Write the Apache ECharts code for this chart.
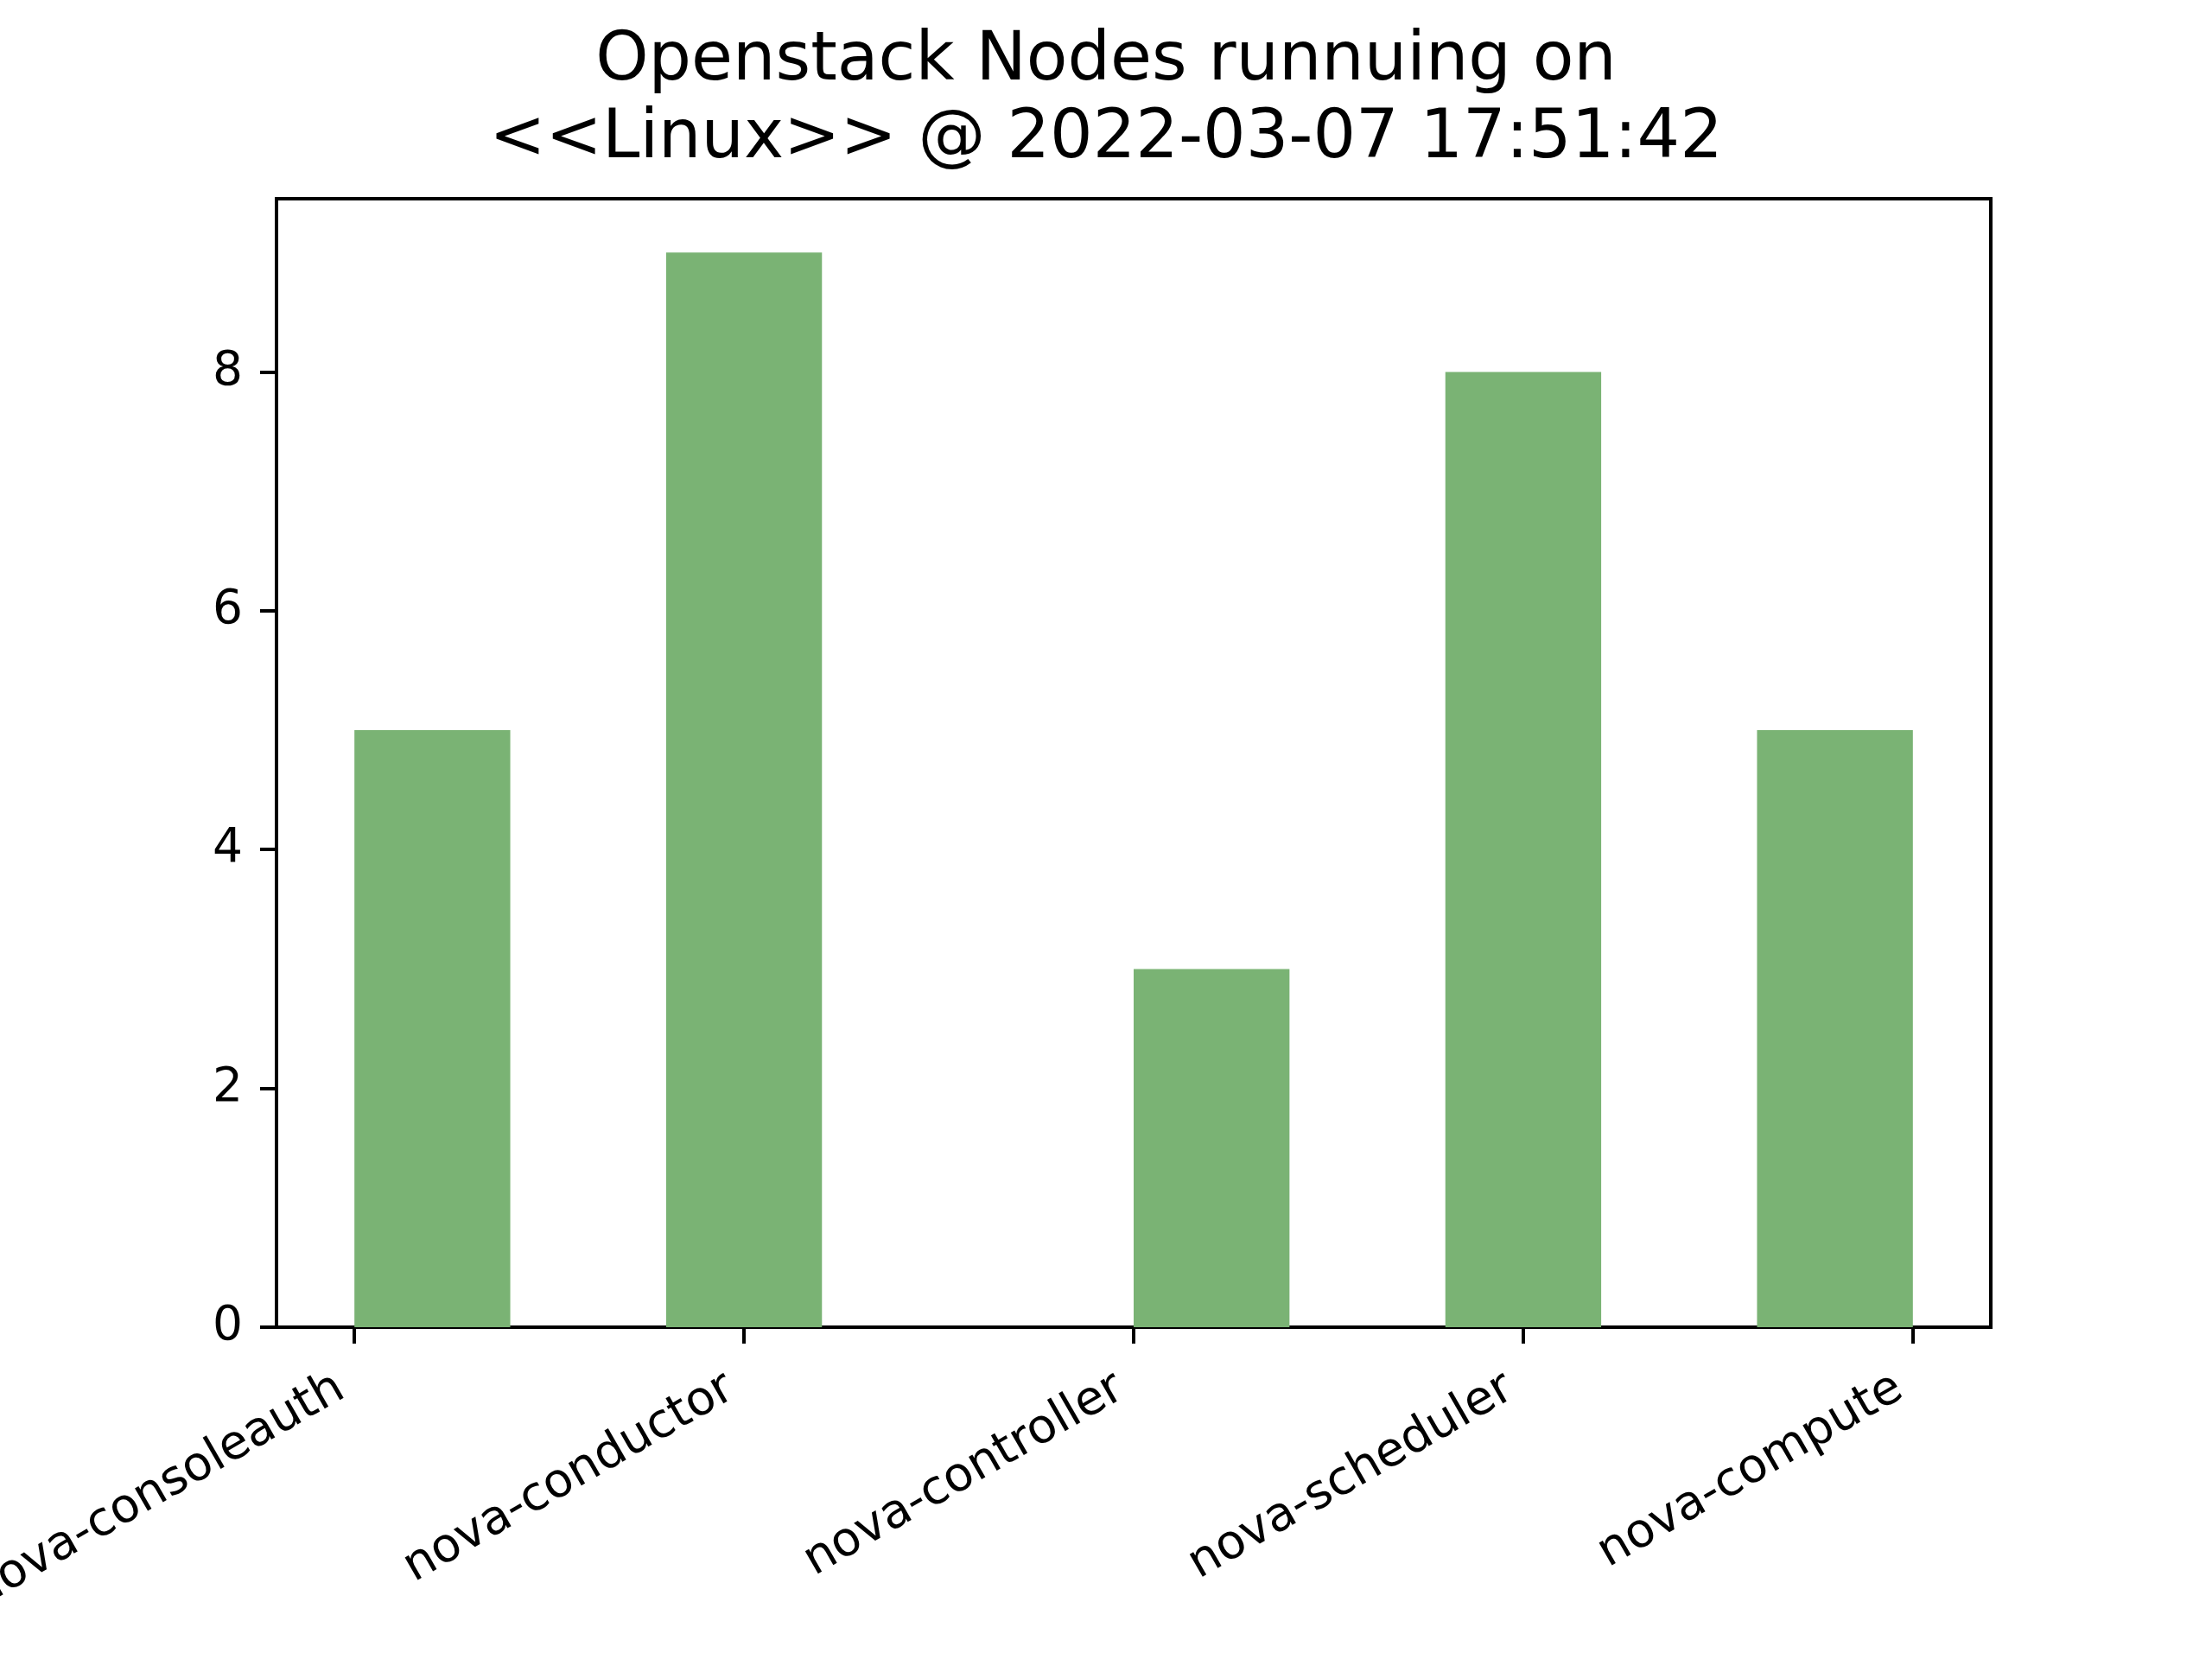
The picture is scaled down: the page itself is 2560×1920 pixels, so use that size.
<!DOCTYPE html>
<html>
<head>
<meta charset="utf-8">
<script src="https://cdn.jsdelivr.net/npm/echarts@6/dist/echarts.min.js"></script>
<style>
html, body { margin: 0; padding: 0; background: #fff; }
#chart { width: 2560px; height: 1920px; }
</style>
</head>
<body>
<div id="chart"></div>
<script>
// ---- data ----
const categories = ['nova-consoleauth', 'nova-conductor', 'nova-controller', 'nova-scheduler', 'nova-compute'];
const tickPositions = [0, 1, 2, 3, 4];
const barStarts = [0, 0.8, 2.0, 2.8, 3.6];
const nodeCounts = [5, 9, 3, 8, 5];
const yTicks = [0, 2, 4, 6, 8];
const titleText = 'Openstack Nodes runnuing on\n<<Linux>> @ 2022-03-07 17:51:42';

const BAR_WIDTH = 0.4;
const FONT = 'DejaVu Sans';

const chart = echarts.init(document.getElementById('chart'), null, { renderer: 'canvas' });

const barData = barStarts.map((x, i) => [x, nodeCounts[i]]);

chart.setOption({
  animation: false,
  backgroundColor: '#ffffff',
  title: {
    text: titleText,
    left: 'center',
    top: 22,
    textStyle: {
      fontFamily: FONT,
      fontSize: 78,
      fontWeight: 'normal',
      color: '#000',
      lineHeight: 90
    }
  },
  grid: {
    left: 320,
    right: 256,
    top: 230,
    bottom: 384,
    show: true,
    borderColor: '#000',
    borderWidth: 4,
    backgroundColor: 'transparent',
    containLabel: false,
    outerBoundsMode: 'none'
  },
  xAxis: {
    type: 'value',
    min: -0.2,
    max: 4.2,
    splitLine: { show: false },
    axisLine: { show: false, onZero: false },
    axisTick: {
      show: true,
      customValues: tickPositions,
      length: 19,
      inside: false,
      lineStyle: { color: '#000', width: 4 }
    },
    axisLabel: {
      show: true,
      customValues: tickPositions,
      rotate: 30,
      margin: 58,
      fontFamily: FONT,
      fontSize: 55,
      color: '#000',
      padding: [0, 18, 0, 0],
      formatter: function (v) {
        const idx = tickPositions.indexOf(Math.round(v));
        return idx >= 0 ? categories[idx] : '';
      }
    }
  },
  yAxis: {
    type: 'value',
    min: 0,
    max: 9.45,
    splitLine: { show: false },
    axisLine: { show: false, onZero: false },
    axisTick: {
      show: true,
      customValues: yTicks,
      length: 19,
      inside: false,
      lineStyle: { color: '#000', width: 4 }
    },
    axisLabel: {
      show: true,
      customValues: yTicks,
      margin: 39,
      fontFamily: FONT,
      fontSize: 55,
      color: '#000',
      formatter: function (v) { return String(v); }
    }
  },
  series: [{
    type: 'custom',
    data: barData,
    encode: { x: 0, y: 1 },
    renderItem: function (params, api) {
      const x0 = api.value(0);
      const val = api.value(1);
      const topLeft = api.coord([x0, val]);
      const bottomRight = api.coord([x0 + BAR_WIDTH, 0]);
      return {
        type: 'rect',
        shape: {
          x: topLeft[0],
          y: topLeft[1],
          width: bottomRight[0] - topLeft[0],
          height: bottomRight[1] - topLeft[1]
        },
        style: { fill: '#7ab374' }
      };
    },
    z: 1
  }]
});
</script>
</body>
</html>
